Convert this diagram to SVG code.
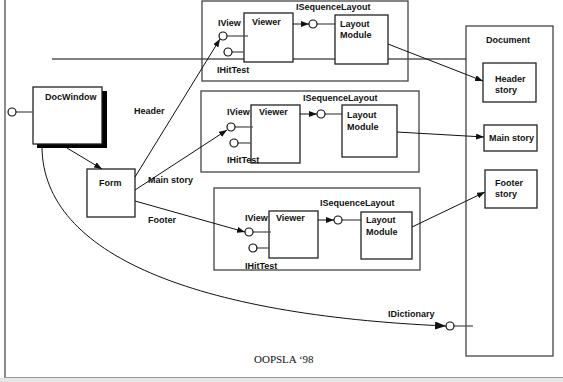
<svg xmlns="http://www.w3.org/2000/svg" width="563" height="382" viewBox="0 0 563 382">
<style>
.t{font-family:"Liberation Sans",Arial,sans-serif;font-weight:bold;font-size:9px;fill:#111}
.s{font-family:"Liberation Serif","Times New Roman",serif;font-size:11px;fill:#111}
.box{fill:#fff;stroke:#222;stroke-width:1.3}
.sub{fill:none;stroke:#444;stroke-width:1.3}
.doc{fill:none;stroke:#444;stroke-width:1.3}
.lol{fill:#fff;stroke:#111;stroke-width:1.2}
.stem{stroke:#555;stroke-width:1.3;fill:none}
.con{stroke:#111;stroke-width:1;fill:none}
</style>
<defs>
<marker id="ah" markerUnits="userSpaceOnUse" markerWidth="8" markerHeight="6" refX="8" refY="3" orient="auto"><path d="M0,0 L8,3 L0,6 z" fill="#111"/></marker>
<marker id="ahb" markerUnits="userSpaceOnUse" markerWidth="11" markerHeight="8" refX="11" refY="4" orient="auto"><path d="M0,0 L11,4 L0,8 z" fill="#111"/></marker>
</defs>
<rect x="0" y="0" width="563" height="382" fill="#fff"/>
<rect x="0" y="378" width="563" height="4" fill="#e6e6e6"/>
<line x1="5" y1="0" x2="5" y2="378" stroke="#666" stroke-width="1.5"/>
<line x1="5" y1="377.5" x2="563" y2="377.5" stroke="#999" stroke-width="1.2"/>
<line x1="52" y1="59" x2="466" y2="59" stroke="#808080" stroke-width="2"/>

<g id="docwindow">
<rect x="37" y="91" width="70" height="57" fill="#000"/>
<rect x="33" y="87" width="69" height="57" class="box"/>
<text x="45" y="100" class="t">DocWindow</text>
<line x1="16" y1="112" x2="33" y2="112" class="stem"/>
<circle cx="12" cy="112" r="4" class="lol"/>
</g>

<g id="form">
<rect x="87" y="169" width="48" height="48" class="box"/>
<text x="99" y="186" class="t">Form</text>
</g>

<g id="sub-header">
<rect x="202" y="1" width="206" height="80" class="sub"/>
<text x="296" y="10" class="t">ISequenceLayout</text>
<text x="218" y="26" class="t">IView</text>
<rect x="244" y="13" width="49" height="49" class="box"/>
<text x="252" y="25" class="t">Viewer</text>
<line x1="227" y1="36" x2="248" y2="36" class="stem"/>
<circle cx="223" cy="36" r="4" class="lol"/>
<line x1="232" y1="52" x2="244" y2="52" class="stem"/>
<circle cx="228" cy="52" r="4" class="lol"/>
<text x="217" y="73" class="t">IHitTest</text>
<line x1="317" y1="24" x2="335" y2="24" class="stem"/>
<circle cx="313" cy="24" r="4" class="lol"/>
<rect x="335" y="15" width="53" height="49" class="box"/>
<text x="340" y="27" class="t">Layout</text>
<text x="340" y="38" class="t">Module</text>
</g>

<g id="sub-main">
<rect x="201" y="91" width="218" height="81" class="sub"/>
<text x="303" y="101" class="t">ISequenceLayout</text>
<text x="227" y="115" class="t">IView</text>
<rect x="251" y="105" width="49" height="58" class="box"/>
<text x="259" y="115" class="t">Viewer</text>
<line x1="235" y1="127" x2="253" y2="127" class="stem"/>
<circle cx="231" cy="127" r="4" class="lol"/>
<line x1="238" y1="143" x2="251" y2="143" class="stem"/>
<circle cx="234" cy="143" r="4" class="lol"/>
<text x="227" y="163" class="t">IHitTest</text>
<line x1="325" y1="114" x2="342" y2="114" class="stem"/>
<circle cx="321" cy="114" r="4" class="lol"/>
<rect x="342" y="105" width="55" height="52" class="box"/>
<text x="347" y="118" class="t">Layout</text>
<text x="347" y="130" class="t">Module</text>
</g>

<g id="sub-footer">
<rect x="214" y="188" width="206" height="82" class="sub"/>
<text x="320" y="206" class="t">ISequenceLayout</text>
<text x="245" y="221" class="t">IView</text>
<rect x="269" y="211" width="49" height="47" class="box"/>
<text x="276" y="221" class="t">Viewer</text>
<line x1="253" y1="232" x2="271" y2="232" class="stem"/>
<circle cx="249" cy="232" r="4" class="lol"/>
<line x1="257" y1="248" x2="269" y2="248" class="stem"/>
<circle cx="253" cy="248" r="4" class="lol"/>
<text x="245" y="269" class="t">IHitTest</text>
<line x1="342" y1="220" x2="361" y2="220" class="stem"/>
<circle cx="338" cy="220" r="4" class="lol"/>
<rect x="361" y="212" width="51" height="47" class="box"/>
<text x="366" y="223" class="t">Layout</text>
<text x="366" y="235" class="t">Module</text>
</g>

<g id="document">
<rect x="466" y="26" width="87" height="330" class="doc"/>
<text x="486" y="43" class="t">Document</text>
<line x1="454" y1="326" x2="473" y2="326" class="stem" stroke="#111"/>
<circle cx="450" cy="326" r="4" class="lol"/>
</g>
<g id="header-story">
<rect x="483" y="63" width="53" height="39" class="box"/>
<text x="495" y="82" class="t">Header</text>
<text x="495" y="93" class="t">story</text>
</g>
<g id="main-story">
<rect x="484" y="125" width="53" height="26" class="box"/>
<text x="489" y="141" class="t">Main story</text>
</g>
<g id="footer-story">
<rect x="485" y="170" width="52" height="38" class="box"/>
<text x="495" y="186" class="t">Footer</text>
<text x="495" y="197" class="t">story</text>
</g>

<g id="connectors">
<line x1="67" y1="148" x2="102" y2="169" class="con" marker-end="url(#ah)"/>
<line x1="135" y1="177" x2="220" y2="39" class="con" marker-end="url(#ah)"/>
<line x1="135" y1="190" x2="227" y2="130" class="con" marker-end="url(#ah)"/>
<line x1="135" y1="201" x2="245" y2="232" class="con" marker-end="url(#ah)"/>
<line x1="293" y1="24" x2="309" y2="24" class="con" marker-end="url(#ah)"/>
<line x1="300" y1="114" x2="317" y2="114" class="con" marker-end="url(#ah)"/>
<line x1="318" y1="220" x2="334" y2="220" class="con" marker-end="url(#ah)"/>
<line x1="388" y1="44" x2="483" y2="81" class="con" marker-end="url(#ah)"/>
<line x1="397" y1="132" x2="484" y2="137" class="con" marker-end="url(#ah)"/>
<line x1="412" y1="227" x2="485" y2="192" class="con" marker-end="url(#ah)"/>
<path d="M42,148 C44,255 195,315 446,326" class="con" marker-end="url(#ahb)"/>
<text x="134" y="114" class="t">Header</text>
<text x="148" y="183" class="t">Main story</text>
<text x="148" y="223" class="t">Footer</text>
<text x="388" y="317" class="t">IDictionary</text>
</g>
<text x="254" y="363" class="s">OOPSLA ‘98</text>
</svg>
